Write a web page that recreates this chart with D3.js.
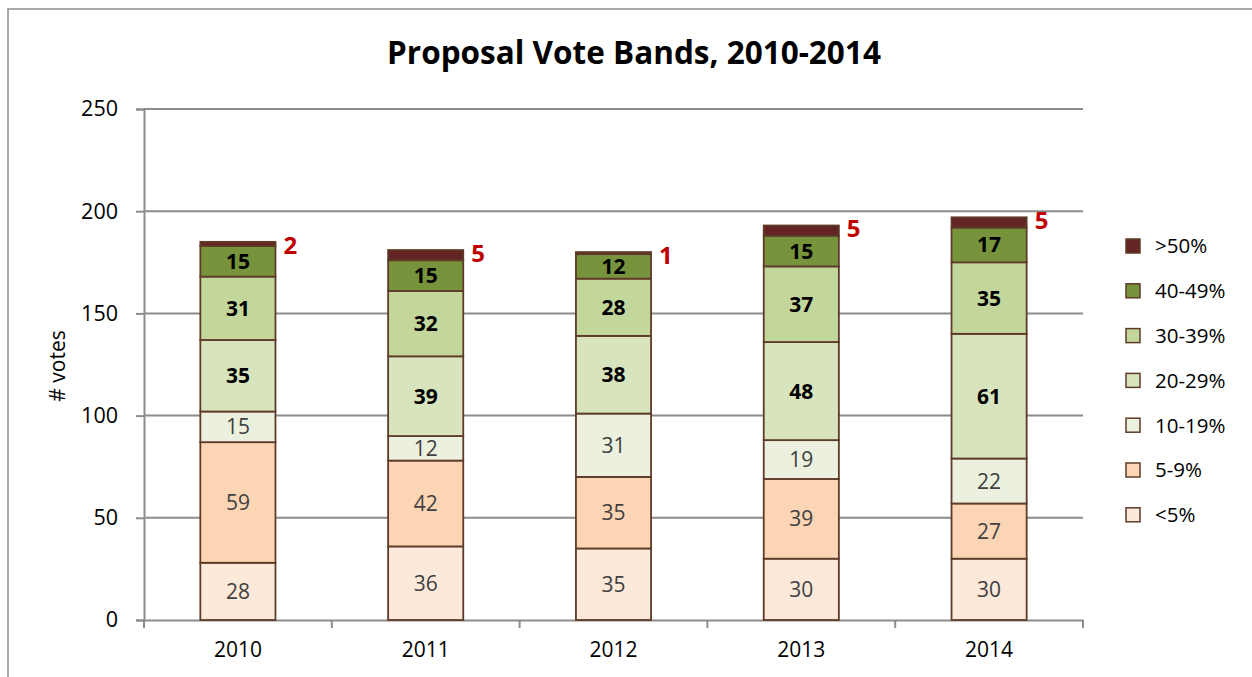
<!DOCTYPE html>
<html>
<head>
<meta charset="utf-8">
<script src="https://cdn.jsdelivr.net/npm/d3@7"></script>
<style>
  html, body { margin: 0; padding: 0; background: #fff; }
  svg { display: block; font-family: "Open Sans", Lato, sans-serif; }
</style>
</head>
<body>
<svg id="chart" width="1252" height="677"></svg>
<script>
/* Proposal vote bands, stacked by year. */

const years = ["2010", "2011", "2012", "2013", "2014"];
const bands = ["<5%", "5-9%", "10-19%", "20-29%", "30-39%", "40-49%", ">50%"];

const under5   = [28, 36, 35, 30, 30];
const from5    = [59, 42, 35, 39, 27];
const from10   = [15, 12, 31, 19, 22];
const from20   = [35, 39, 38, 48, 61];
const from30   = [31, 32, 28, 37, 35];
const from40   = [15, 15, 12, 15, 17];
const over50   = [2, 5, 1, 5, 5];

const yTicks = [0, 50, 100, 150, 200, 250];

const seriesValues = [under5, from5, from10, from20, from30, from40, over50];
const bandColor = ["#fde9d9", "#fcd5b5", "#ebf1de", "#d7e4bd", "#c3d69b", "#77933c", "#632523"];

/* ---------- LAYOUT ---------- */

const svg = d3.select("#chart");
const plotLeft = 144, plotRight = 1083, plotTop = 109, plotBottom = 620;
const FONT = "'Open Sans', Lato, sans-serif";

const x = d3.scaleBand().domain(years).range([plotLeft, plotRight]).paddingInner(0).paddingOuter(0);
const y = d3.scaleLinear().domain([0, 250]).range([plotBottom, plotTop]);
const barW = x.bandwidth() * 0.4;

/* Outer chart frame, runs off the right and bottom edges like the source. */
svg.append("rect")
  .attr("x", 8).attr("y", 9).attr("width", 1300).attr("height", 720)
  .attr("fill", "none").attr("stroke", "#8c8c8c").attr("stroke-width", 1.5);

svg.append("text")
  .attr("x", 634).attr("y", 64)
  .attr("text-anchor", "middle")
  .attr("font-size", 31.5).attr("font-weight", "bold")
  .text("Proposal Vote Bands, 2010-2014");

/* ---------- GRID + AXES ---------- */

svg.append("g").selectAll("line")
  .data(yTicks.filter(function (t) { return t > 0; }))
  .enter().append("line")
  .attr("x1", plotLeft).attr("x2", plotRight)
  .attr("y1", function (d) { return y(d); }).attr("y2", function (d) { return y(d); })
  .attr("stroke", "#8c8c8c").attr("stroke-width", 2);

const yAxis = svg.append("g")
  .attr("transform", "translate(" + plotLeft + ",0)")
  .call(d3.axisLeft(y).tickValues(yTicks).tickSize(8).tickPadding(18));
yAxis.select(".domain").attr("stroke", "#8c8c8c").attr("stroke-width", 2);
yAxis.selectAll(".tick line").attr("stroke", "#8c8c8c").attr("stroke-width", 2);
yAxis.selectAll("text").attr("font-size", 21.5).attr("fill", "#000")
  .attr("font-family", FONT);

const xAxis = svg.append("g")
  .attr("transform", "translate(0," + plotBottom + ")")
  .call(d3.axisBottom(x).tickSize(0).tickPadding(22));
xAxis.select(".domain").attr("stroke", "#8c8c8c").attr("stroke-width", 2);
xAxis.selectAll("text").attr("font-size", 21).attr("fill", "#000")
  .attr("font-family", FONT);

/* Category boundary ticks on the x axis. */
svg.append("g").selectAll("line")
  .data(years.concat(["end"]))
  .enter().append("line")
  .attr("x1", function (d, i) { return plotLeft + i * x.step(); })
  .attr("x2", function (d, i) { return plotLeft + i * x.step(); })
  .attr("y1", plotBottom).attr("y2", plotBottom + 8)
  .attr("stroke", "#8c8c8c").attr("stroke-width", 2);

svg.append("text")
  .attr("transform", "translate(65," + 366 + ") rotate(-90)")
  .attr("text-anchor", "middle")
  .attr("font-size", 21)
  .text("# votes");

/* ---------- STACKED BARS ---------- */

const rows = years.map(function (yr, i) {
  const r = { year: yr };
  bands.forEach(function (b, k) { r[b] = seriesValues[k][i]; });
  return r;
});
const stacked = d3.stack().keys(bands)(rows);

const layers = svg.append("g").selectAll("g.layer")
  .data(stacked)
  .enter().append("g")
  .attr("class", "layer")
  .attr("fill", function (d, k) { return bandColor[k]; });

layers.selectAll("rect")
  .data(function (d) { return d; })
  .enter().append("rect")
  .attr("x", function (d) { return x(d.data.year) + (x.bandwidth() - barW) / 2; })
  .attr("width", barW)
  .attr("y", function (d) { return y(d[1]); })
  .attr("height", function (d) { return y(d[0]) - y(d[1]); })
  .attr("stroke", "#5e3b28").attr("stroke-width", 1.8);

/* Inside labels for all bands except >50%. */
stacked.forEach(function (layer, k) {
  if (k === bands.length - 1) return;
  const boldBand = k >= 3;
  svg.append("g").selectAll("text")
    .data(layer)
    .enter().append("text")
    .attr("x", function (d) { return x(d.data.year) + x.bandwidth() / 2; })
    .attr("y", function (d) { return (y(d[0]) + y(d[1])) / 2; })
    .attr("dy", "0.36em")
    .attr("text-anchor", "middle")
    .attr("font-size", 21)
    .attr("font-weight", boldBand ? "bold" : "normal")
    .attr("fill", boldBand ? "#000" : "#404040")
    .text(function (d) { return d.data[layer.key]; });
});

/* >50% labels sit outside the bar, top right, in red. */
const topLayer = stacked[stacked.length - 1];
svg.append("g").selectAll("text")
  .data(topLayer)
  .enter().append("text")
  .attr("x", function (d) { return x(d.data.year) + (x.bandwidth() + barW) / 2 + 8; })
  .attr("y", function (d) { return y(d[1]) + 3; })
  .attr("dy", "0.36em")
  .attr("font-size", 24).attr("font-weight", "bold")
  .attr("fill", "#c00000")
  .text(function (d) { return d.data[">50%"]; });

/* ---------- LEGEND ---------- */

const legend = svg.append("g").selectAll("g.item")
  .data(bands.slice().reverse())
  .enter().append("g")
  .attr("class", "item")
  .attr("transform", function (d, i) { return "translate(1126," + (246 + i * 44.8) + ")"; });

legend.append("rect")
  .attr("x", 0).attr("y", -7).attr("width", 14).attr("height", 14)
  .attr("fill", function (d) { return bandColor[bands.indexOf(d)]; })
  .attr("stroke", "#5e3b28").attr("stroke-width", 1.5);

legend.append("text")
  .attr("x", 29).attr("dy", "0.36em")
  .attr("font-size", 20.5)
  .text(function (d) { return d; });
</script>
</body>
</html>
